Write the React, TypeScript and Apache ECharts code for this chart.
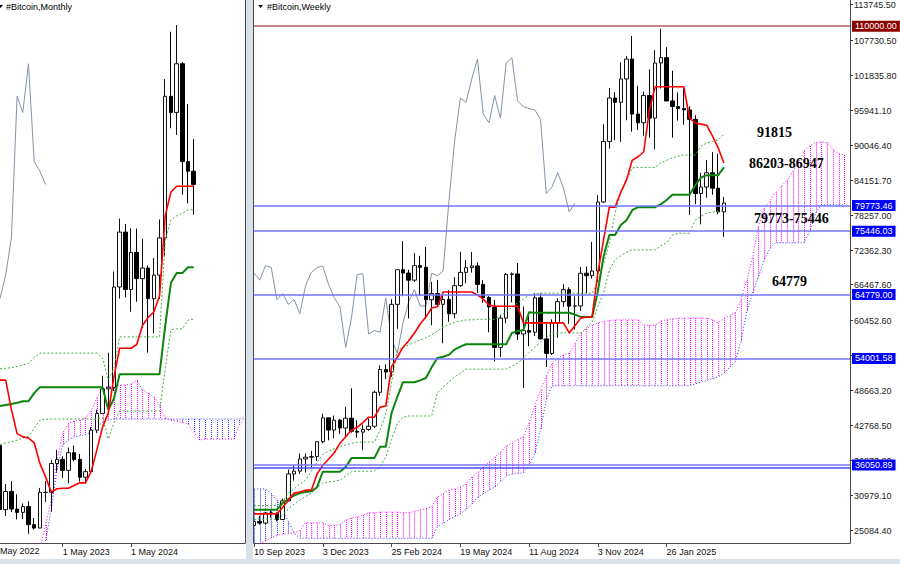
import React, { useEffect, useRef } from 'react';
import * as echarts from 'echarts';

const FONT = '"Liberation Sans", Arial, sans-serif';
const SERIF = '"Liberation Serif", "Times New Roman", serif';

// ---------------- Monthly panel (Jun 2022 .. Apr 2025, cloud to +9) ----------------
const mXLabelIdx = [11, 23];
const mXLabels = ['1 May 2023', '1 May 2024'];
const mCount = 44;

const mOpen = [31790, 19940, 23300, 20050, 19430, 20500, 17170, 16540, 23130, 23140, 28480, 29230, 27210, 30470, 29230, 25940, 26970, 34640, 37720, 42280, 42580, 61130, 71290, 60670, 67520, 62680, 64630, 58970, 63330, 70220, 96410, 93430, 102430, 84350, 82550];
const mHigh = [31990, 24670, 25210, 22800, 21090, 21480, 18390, 23960, 25250, 29180, 31000, 29820, 31430, 31800, 30240, 27480, 35200, 38430, 44700, 48970, 64000, 73780, 72800, 71980, 71950, 70080, 65110, 66500, 73620, 99590, 108350, 109590, 102750, 95000, 88500];
const mLow = [17620, 18780, 19520, 18130, 18190, 15480, 16260, 16500, 21350, 19550, 26940, 25810, 24800, 28860, 25170, 24900, 26540, 34100, 37630, 38560, 41880, 59000, 59190, 56550, 58400, 53500, 49000, 52550, 58900, 66800, 90500, 89260, 78200, 76600, 74500];
const mClose = [19940, 23300, 20050, 19430, 20500, 17170, 16540, 23130, 23140, 28480, 29230, 27210, 30470, 29230, 25940, 26970, 34640, 37720, 42280, 42580, 61130, 71290, 60670, 67520, 62680, 64630, 58970, 63330, 70220, 96410, 93430, 102430, 84350, 82550, 80100];

const mTenkan = [43900, 43900, 38500, 34000, 33400, 33200, 32300, 28500, 26000, 23200, 23800, 23900, 23900, 24400, 24900, 24900, 27000, 31000, 35200, 37800, 44500, 49800, 49800, 49800, 50500, 54000, 55500, 56500, 59500, 74300, 78700, 79773.46, 79773.46, 79773.46, 79773.46];
const mKijun = [39100, 39300, 39500, 39700, 40000, 40000, 41500, 42600, 42600, 42600, 42600, 42600, 42600, 42600, 42600, 42600, 42600, 42600, 42600, 38400, 40500, 45000, 45000, 45000, 45000, 45000, 45000, 45000, 45000, 54000, 61900, 63700, 63700, 64779, 64779];
const mUpper = [46000, 46100, 46200, 46400, 46700, 47000, 48100, 48900, 48900, 48900, 48900, 48900, 48900, 48900, 48900, 48900, 48900, 48900, 48000, 44000, 46000, 51900, 51900, 51900, 51900, 51900, 51900, 51900, 51900, 69800, 73500, 74300, 74800, 75400, 75446];
const mLower = [32000, 32300, 32500, 32800, 33200, 33500, 35000, 36500, 36700, 36700, 36700, 36700, 36700, 36700, 36700, 36700, 36700, 36700, 37000, 33000, 36000, 38200, 38200, 38200, 38200, 38200, 38200, 38200, 38200, 46000, 53200, 53400, 53400, 55000, 55200];
const mSpanA = [null, null, null, null, null, null, 10000, 12500, 17100, 21700, 29100, 34100, 35900, 36300, 36500, 36900, 38200, 40600, 42300, 42800, 42800, 43000, 43000, 43200, 43900, 42100, 41500, 40800, 39300, 36900, 36500, 36300, 36100, 35800, 34300, 32800, 33000, 33000, 33000, 33000, 33000, 33000, 35600, 36900];
const mSpanB = [null, null, null, null, null, null, 9000, 11000, 14300, 19900, 27300, 31900, 32800, 33400, 33600, 33800, 34300, 35200, 36100, 36500, 36700, 36700, 36700, 36700, 36700, 36700, 36700, 36700, 36700, 36700, 36700, 36700, 36700, 36700, 36700, 36700, 36700, 36700, 36700, 36700, 36700, 36700, 36700, 37000];

// ---------------- Weekly panel (10 Sep 2023 .. 6 Apr 2025, cloud to +21) ----------------
const wXLabelIdx = [0, 12, 24, 36, 48, 60, 72];
const wXLabels = ['10 Sep 2023', '3 Dec 2023', '25 Feb 2024', '19 May 2024', '11 Aug 2024', '3 Nov 2024', '26 Jan 2025'];
const wCount = 105;

const wOpen = [25840, 26530, 26250, 27970, 27920, 26850, 29990, 34530, 35010, 37060, 37360, 37460, 39970, 43990, 41930, 43600, 42280, 43930, 41730, 41580, 42030, 42580, 48300, 52140, 51730, 63120, 68960, 68390, 67200, 69650, 69360, 63900, 64940, 63120, 63950, 61540, 66270, 68510, 69300, 69590, 66480, 64280, 62680, 55860, 60800, 68160, 68250, 58120, 58710, 58430, 64220, 57300, 54840, 59990, 63580, 65600, 62820, 62850, 68360, 67950, 68740, 80370, 90580, 97900, 97180, 101110, 104460, 95190, 93720, 98310, 94510, 103800, 104700, 97400, 96460, 96120, 95900, 94300, 81800, 82900, 85300, 82700, 78700];
const wHigh = [27490, 27480, 28060, 28580, 28000, 30380, 35280, 35980, 37970, 37980, 38410, 40000, 44700, 44000, 44380, 43800, 45880, 48970, 43580, 42840, 43880, 48600, 52820, 52980, 64000, 69000, 73780, 68950, 71770, 71300, 72800, 66900, 67230, 64740, 65500, 67700, 71980, 70630, 71950, 70200, 67190, 64500, 63860, 61400, 68400, 68500, 70080, 62750, 61800, 65000, 64970, 59800, 60600, 64130, 66500, 66000, 64480, 69400, 69500, 73620, 81500, 93480, 99590, 98870, 103900, 105000, 108350, 99960, 99000, 102720, 106000, 109590, 106460, 102500, 98830, 99500, 96500, 95000, 85300, 87450, 88770, 88500, 81240];
const wLow = [24900, 26000, 25990, 27160, 26540, 26810, 29900, 33390, 34520, 34760, 35630, 36730, 39700, 40200, 40530, 41300, 40750, 41500, 40650, 38550, 41800, 42260, 47700, 50520, 50900, 59000, 64500, 60760, 66900, 64500, 60660, 59600, 62800, 56550, 60190, 60750, 66050, 66660, 68460, 65050, 63380, 58400, 53500, 54260, 59900, 63450, 57120, 49000, 56080, 57780, 57200, 52550, 54580, 57490, 62700, 59830, 58900, 62000, 65000, 67450, 66800, 80200, 89380, 90790, 90500, 94150, 92230, 92520, 91530, 91200, 89260, 99500, 97780, 91230, 94090, 93390, 78200, 80000, 76600, 81100, 81600, 78300, 74500];
const wClose = [26530, 26250, 27970, 27920, 26850, 29990, 34530, 35010, 37060, 37360, 37460, 39970, 43990, 41930, 43600, 42280, 43930, 41730, 41580, 42030, 42580, 48300, 52140, 51730, 63120, 68960, 68390, 67200, 69650, 69360, 63900, 64940, 63120, 63950, 61540, 66270, 68510, 69300, 69590, 66480, 64280, 62680, 55860, 60800, 68160, 68250, 58120, 58710, 58430, 64220, 57300, 54840, 59990, 63580, 65600, 62820, 62850, 68360, 67950, 68740, 80370, 90580, 97900, 97180, 101110, 104460, 95190, 93720, 98310, 94510, 103800, 104700, 97400, 96460, 96120, 95900, 94300, 81800, 82900, 85300, 82700, 78700, 80200];

const wTenkan = [27800, 27800, 27800, 27800, 27800, 28900, 30100, 31300, 31500, 31800, 31800, 34500, 36000, 37000, 38100, 39700, 40800, 41900, 42400, 43200, 44100, 44100, 45800, 46000, 52600, 54200, 55900, 57000, 58300, 59800, 61000, 62500, 62700, 65200, 65200, 65200, 65200, 65200, 65200, 64700, 64000, 63000, 62800, 62800, 62800, 62800, 62800, 60000, 60000, 60000, 60000, 60000, 60000, 60000, 60000, 58300, 59500, 60800, 61000, 61000, 68400, 74000, 79500, 79500, 82000, 84100, 87400, 88000, 88800, 95900, 99800, 99800, 99800, 99800, 99800, 99800, 94500, 93700, 93500, 93300, 91500, 89500, 86947];
const wKijun = [28500, 28500, 28500, 28500, 28500, 29600, 30300, 30900, 31300, 31500, 31600, 32300, 34900, 34900, 34900, 34900, 35700, 37200, 37200, 37200, 37200, 37200, 39100, 39100, 44800, 47500, 50000, 50000, 50000, 50300, 50700, 52500, 54100, 54300, 54600, 55500, 56000, 56400, 56400, 56400, 56400, 56400, 56400, 56400, 56400, 58300, 58600, 58800, 61800, 61700, 61700, 61700, 61700, 61700, 61700, 61700, 61400, 61000, 61000, 61000, 65300, 71200, 74800, 74800, 76500, 77300, 79000, 79500, 79500, 79500, 79500, 80000, 80700, 81600, 81600, 81600, 81600, 83200, 84500, 84900, 84900, 84900, 86203];
const wUpper = [29200, 29200, 29200, 29200, 29200, 29800, 31300, 32000, 32800, 33500, 35000, 36500, 37800, 38400, 38800, 39100, 39400, 39700, 39900, 39900, 39900, 39900, 41900, 44800, 49900, 55400, 55800, 56300, 56700, 57100, 57500, 58000, 58600, 59300, 59700, 60100, 60300, 60500, 60500, 60600, 60600, 60600, 60600, 61200, 61800, 62600, 63400, 64000, 64700, 64900, 65000, 65000, 65000, 65000, 65000, 65000, 65000, 65000, 65000, 65000, 67000, 70000, 73500, 78500, 82000, 84000, 86100, 86200, 86200, 86200, 86200, 87000, 87400, 87800, 88100, 88300, 88300, 88300, 89800, 90300, 90600, 90800, 91815];
const wLower = [26900, 26900, 26900, 26900, 26900, 27600, 28700, 29400, 30100, 30700, 31300, 32200, 33000, 33200, 33300, 33500, 34200, 34900, 35000, 35000, 35000, 35000, 35700, 37400, 40300, 43000, 44100, 44300, 44300, 44300, 44300, 44300, 48200, 49200, 50000, 50900, 51500, 52200, 52200, 52200, 52200, 52200, 52200, 52200, 52200, 52700, 53200, 54000, 55000, 55900, 56800, 57500, 58300, 58300, 58300, 58300, 58300, 58300, 59200, 60100, 62700, 65000, 68900, 70600, 71300, 71900, 72300, 72300, 72300, 72300, 72300, 73000, 73500, 74800, 75100, 75100, 75100, 77300, 78000, 78500, 78700, 78800, 78900];
const wSpanA = [22500, 22800, 23200, 23800, 24200, 24400, 24500, 24600, 25000, 26300, 26300, 26300, 26300, 25800, 25900, 26000, 26800, 27100, 27300, 27600, 28000, 28000, 28100, 28100, 28100, 28100, 28000, 28000, 28200, 28500, 28700, 29000, 30600, 31200, 31800, 32000, 32300, 32800, 34000, 34800, 35700, 36500, 37400, 38200, 39200, 39700, 40300, 40800, 43100, 46000, 48700, 51000, 53200, 54000, 54600, 54900, 56500, 58300, 59000, 59600, 60000, 60200, 60400, 60500, 60500, 60500, 60500, 60500, 59600, 59600, 59600, 60300, 60500, 60700, 60800, 60800, 60800, 60800, 60800, 60800, 60500, 60000, 60800, 61200, 61700, 63900, 67200, 71000, 76200, 79300, 80500, 82000, 83000, 84000, 85500, 87000, 89000, 89800, 90400, 90500, 90400, 89200, 88500, 88300];
const wSpanB = [32000, 32000, 32000, 31300, 30100, 28500, 26500, 24600, 23700, 23700, 23700, 23700, 23700, 23700, 23700, 23700, 23700, 23700, 23700, 23700, 23700, 23700, 23700, 23700, 23700, 23700, 23700, 23700, 23700, 23700, 23700, 23700, 25600, 26200, 26800, 27300, 27800, 28500, 29500, 30600, 31200, 31800, 32300, 33200, 34200, 34500, 34600, 34700, 36000, 38000, 42000, 47000, 49400, 49400, 49400, 49400, 49400, 49400, 49400, 49400, 49400, 49400, 49400, 49400, 49400, 49400, 49400, 49400, 49400, 49400, 49400, 49400, 49400, 49400, 49400, 49400, 49400, 49700, 50000, 50300, 50600, 50900, 51500, 52500, 53500, 57000, 62000, 65000, 67700, 70500, 72500, 73500, 73500, 73500, 73500, 73500, 73500, 75500, 78500, 79900, 79900, 79900, 79900, 79900];

const wTickValues = [113745.5, 107730.5, 101835.8, 95941.1, 90046.4, 84151.7, 78257.0, 72362.3, 66467.6, 60452.6, 54557.9, 48663.2, 42768.5, 36873.8, 30979.1, 25084.4];
const levelValues = [110000, 79773.46, 75446.03, 64779.0, 54001.58, 36050.89, 35650];
const levelLabelled = [true, true, true, true, true, true, false];
const levelLineColors = ['#b25c5c', '#7474ff', '#7474ff', '#7474ff', '#7474ff', '#7474ff', '#4a4aff'];
const levelBoxColors = ['#8b0000', '#0000ff', '#0000ff', '#0000ff', '#0000ff', '#0000ff', '#0000ff'];

const noteTexts = ['91815', '86203-86947', '79773-75446', '64779'];
const notePos = [[757, 132], [749, 163], [754, 218], [772, 281]];

// ------------------------------------------------------------------
function candles(o: number[], h: number[], l: number[], c: number[]) {
  return o.map((v, i) => [v, c[i], l[i], h[i]]);
}

function cloudSeries(gi: number, A: (number | null)[], B: (number | null)[]) {
  const data: number[][] = [];
  A.forEach((a, i) => {
    const b = B[i];
    if (a != null && b != null) data.push([i, a, b]);
  });
  return {
    type: 'custom',
    xAxisIndex: gi,
    yAxisIndex: gi,
    z: 1,
    clip: true,
    silent: true,
    encode: { x: 0, y: [1, 2] },
    data,
    renderItem: (params: any, api: any) => {
      const i = api.value(0);
      const a = api.value(1);
      const b = api.value(2);
      const p1 = api.coord([i, a]);
      const p2 = api.coord([i, b]);
      const x = Math.round(p1[0]) + 0.5;
      return {
        type: 'line',
        shape: { x1: x, y1: p1[1], x2: x, y2: p2[1] },
        style: { stroke: a >= b ? '#ff00ff' : '#2b2bff', lineWidth: 1, lineDash: [1, 1] },
      };
    },
  };
}

function lineSeries(gi: number, data: any[], color: string, width: number, type: any, z: number) {
  return {
    type: 'line',
    xAxisIndex: gi,
    yAxisIndex: gi,
    data,
    symbol: 'none',
    showSymbol: false,
    silent: true,
    connectNulls: false,
    z,
    lineStyle: { color, width, type },
  };
}

function xAxisFor(gi: number, count: number, idx: number[], labels: string[]) {
  const cats = Array.from({ length: count }, (_, i) => 'c' + i);
  const show = (i: number) => idx.indexOf(i) >= 0;
  return {
    type: 'category',
    gridIndex: gi,
    data: cats,
    boundaryGap: false,
    axisLine: { show: true, onZero: false, lineStyle: { color: '#4a4a4a', width: 1 } },
    axisTick: { show: true, length: 4, interval: (i: number) => show(i), lineStyle: { color: '#4a4a4a' } },
    axisLabel: {
      show: true,
      interval: (i: number) => show(i),
      formatter: (_v: string, i: number) => (show(i) ? labels[idx.indexOf(i)] : ''),
      align: 'left',
      margin: 4,
      fontSize: 9,
      fontFamily: FONT,
      color: '#111',
    },
    splitLine: { show: false },
  };
}

function yAxisFor(gi: number, min: number, max: number) {
  return {
    type: 'value',
    gridIndex: gi,
    min,
    max,
    position: 'right',
    axisLine: { show: true, onZero: false, lineStyle: { color: '#4a4a4a', width: 1 } },
    axisTick: { show: false },
    axisLabel: { show: false },
    splitLine: { show: false },
  };
}

const candleStyle = {
  color: '#ffffff',
  color0: '#000000',
  borderColor: '#111111',
  borderColor0: '#000000',
  borderWidth: 1,
};

function buildOption() {
  const mChikou = mClose.slice(26);
  const wChikou = wClose.slice(26);

  const series: any[] = [
    // ---- monthly
    cloudSeries(0, mSpanA, mSpanB),
    lineSeries(0, mSpanA, '#ff00ff', 1, [1, 2], 2),
    lineSeries(0, mSpanB, '#2b2bff', 1, [1, 2], 2),
    lineSeries(0, mChikou, '#8494a8', 1, 'solid', 2),
    {
      type: 'candlestick',
      xAxisIndex: 0,
      yAxisIndex: 0,
      data: candles(mOpen, mHigh, mLow, mClose),
      barWidth: 4,
      itemStyle: candleStyle,
      silent: true,
      z: 3,
    },
    lineSeries(0, mUpper, '#3fae3f', 1, [2, 2], 4),
    lineSeries(0, mLower, '#3fae3f', 1, [2, 2], 4),
    lineSeries(0, mKijun, '#0c850c', 2, 'solid', 4),
    lineSeries(0, mTenkan, '#ff0000', 1.6, 'solid', 4),
    // ---- weekly
    cloudSeries(1, wSpanA, wSpanB),
    lineSeries(1, wSpanA, '#ff00ff', 1, [1, 2], 2),
    lineSeries(1, wSpanB, '#2b2bff', 1, [1, 2], 2),
    lineSeries(1, wChikou, '#8494a8', 1, 'solid', 2),
    {
      type: 'candlestick',
      xAxisIndex: 1,
      yAxisIndex: 1,
      data: candles(wOpen, wHigh, wLow, wClose),
      barWidth: 4,
      itemStyle: candleStyle,
      silent: true,
      z: 3,
      markLine: {
        symbol: ['none', 'none'],
        silent: true,
        animation: false,
        data: levelValues.map((v, k) => ({
          yAxis: v,
          lineStyle: { color: levelLineColors[k], width: k === 0 ? 1.5 : 1.6, type: 'solid' },
          label: {
            show: levelLabelled[k],
            position: 'end',
            formatter: () => v.toFixed(2),
            color: '#ffffff',
            backgroundColor: levelBoxColors[k],
            padding: [1, 3, 0, 3],
            lineHeight: 10,
            fontSize: 9,
            fontFamily: FONT,
            distance: 2,
          },
        })),
      },
    },
    lineSeries(1, wUpper, '#3fae3f', 1, [2, 2], 4),
    lineSeries(1, wLower, '#3fae3f', 1, [2, 2], 4),
    lineSeries(1, wKijun, '#0c850c', 2, 'solid', 4),
    lineSeries(1, wTenkan, '#ff0000', 1.6, 'solid', 4),
    // ---- weekly price scale labels
    {
      type: 'custom',
      xAxisIndex: 1,
      yAxisIndex: 1,
      clip: false,
      silent: true,
      z: 2,
      data: wTickValues.map((v) => [0, v]),
      renderItem: (params: any, api: any) => {
        const v = api.value(1);
        const y = Math.round(api.coord([0, v])[1]) + 0.5;
        const cs = params.coordSys;
        const xr = cs.x + cs.width;
        return {
          type: 'group',
          children: [
            { type: 'line', shape: { x1: xr, y1: y, x2: xr + 3, y2: y }, style: { stroke: '#333', lineWidth: 1 } },
            {
              type: 'text',
              x: xr + 4,
              y,
              style: { text: v.toFixed(2), fill: '#222', fontSize: 9, fontFamily: FONT, verticalAlign: 'middle', align: 'left' },
            },
          ],
        };
      },
    },
  ];

  const graphics: any[] = [
    { type: 'rect', shape: { x: 246, y: 0, width: 7, height: 564 }, style: { fill: '#d8e0ea' }, z: 50, silent: true },
    { type: 'rect', shape: { x: 0, y: 559, width: 900, height: 5 }, style: { fill: '#d8e0ea' }, z: 50, silent: true },
    { type: 'line', shape: { x1: 253.5, y1: 0, x2: 253.5, y2: 543.5 }, style: { stroke: '#4a4a4a', lineWidth: 1 }, z: 50, silent: true },
    { type: 'polygon', shape: { points: [[258, 5], [263, 5], [260.5, 8]] }, style: { fill: '#000' }, z: 50, silent: true },
    { type: 'text', x: 267, y: 7, style: { text: '#Bitcoin,Weekly', fontSize: 9, fontFamily: FONT, fill: '#000', verticalAlign: 'middle' }, z: 50, silent: true },
    { type: 'polygon', shape: { points: [[-2, 5], [3, 5], [0.5, 8]] }, style: { fill: '#000' }, z: 50, silent: true },
    { type: 'text', x: 6, y: 7, style: { text: '#Bitcoin,Monthly', fontSize: 9, fontFamily: FONT, fill: '#000', verticalAlign: 'middle' }, z: 50, silent: true },
    { type: 'text', x: 0, y: 551, style: { text: 'May 2022', fontSize: 9, fontFamily: FONT, fill: '#111', verticalAlign: 'middle' }, z: 50, silent: true },
  ];
  noteTexts.forEach((t, k) => {
    graphics.push({
      type: 'text',
      x: notePos[k][0],
      y: notePos[k][1],
      style: { text: t, fontSize: 14, fontWeight: 'bold', fontFamily: SERIF, fill: '#000', verticalAlign: 'middle' },
      z: 40,
      silent: true,
    });
  });

  return {
    animation: false,
    backgroundColor: '#ffffff',
    grid: [
      { left: -2.25, top: 0, width: 247.25, height: 543 },
      { left: 254, top: 0, width: 596, height: 543 },
    ],
    xAxis: [xAxisFor(0, mCount, mXLabelIdx, mXLabels), xAxisFor(1, wCount, wXLabelIdx, wXLabels)],
    yAxis: [yAxisFor(0, 13770, 114225), yAxisFor(1, 22893, 114421)],
    series,
    graphic: { elements: graphics },
  };
}

export default function App() {
  const ref = useRef<HTMLDivElement>(null);
  useEffect(() => {
    if (!ref.current) return;
    const chart = echarts.init(ref.current, null, { renderer: 'svg' });
    chart.setOption(buildOption() as any);
    return () => chart.dispose();
  }, []);
  return (
    <div
      ref={ref}
      style={{ position: 'fixed', left: 0, top: 0, width: 900, height: 564, background: '#ffffff' }}
    />
  );
}
